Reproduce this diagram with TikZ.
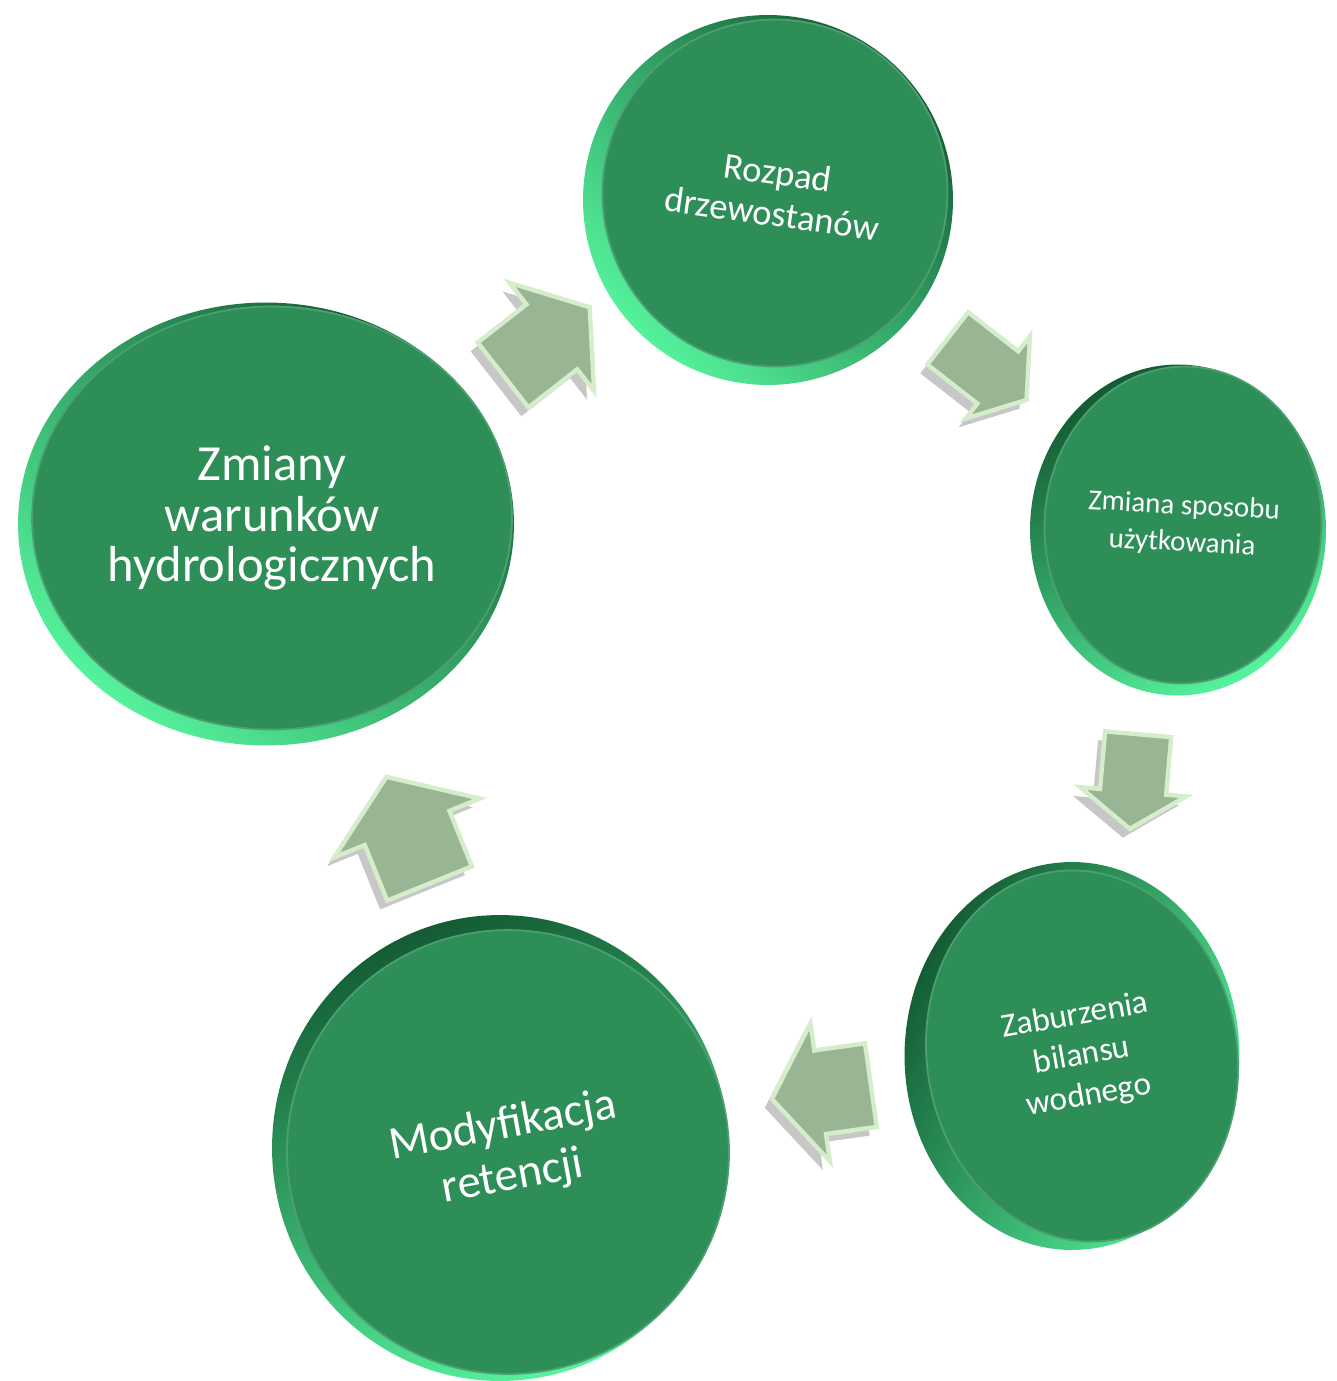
\documentclass[tikz,border=0pt]{standalone}
\usepackage{fontspec}
\setmainfont{Carlito}
\usetikzlibrary{shapes.geometric,shapes.arrows,shadows}

\definecolor{discface}{HTML}{2E8E58}
\definecolor{rimlight}{HTML}{55F29C}
\definecolor{rimdark}{HTML}{145C34}
\definecolor{arrowfill}{HTML}{9AB593}
\definecolor{arrowedge}{HTML}{D6EDCB}

\begin{document}
\begin{tikzpicture}[x=0.02cm, y=-0.02cm]
	\tikzstyle{face} = [ellipse, fill=discface, text=white, align=center, inner sep=0pt, draw=discface!85!white, line width=1pt]
	\tikzstyle{rim} = [ellipse, inner sep=0pt, top color=rimdark, bottom color=rimlight]
	\tikzstyle{blockarrow} = [single arrow, fill=arrowfill, draw=arrowedge, line width=2.5pt, inner xsep=0pt, single arrow tip angle=110, drop shadow={shadow xshift=-4pt, shadow yshift=-5pt, fill=black, opacity=.22}]
	\useasboundingbox (0,0) rectangle (1336,1381);

	\node[rim, minimum width=7.4cm, minimum height=7.4cm, shading angle=-45] (rozpadRim) at (768,200) {};
	\node[face, minimum width=6.9cm, minimum height=6.94cm, rotate=-8, font=\fontsize{20.8}{23.5}\selectfont] (rozpad) at (775,193) {Rozpad\\drzewostanów};

	\node[rim, minimum width=5.92cm, minimum height=6.62cm, shading angle=30] (zmianaRim) at (1178,530) {};
	\node[face, minimum width=5.54cm, minimum height=6.34cm, rotate=-3, font=\fontsize{16.5}{21}\selectfont] (zmiana) at (1183,525) {Zmiana sposobu\\użytkowania};

	\node[rim, minimum width=6.7cm, minimum height=7.76cm, shading angle=60] (zaburzeniaRim) at (1072,1056) {};
	\node[face, minimum width=6.2cm, minimum height=7.46cm, rotate=10, font=\fontsize{19}{23}\selectfont] (zaburzenia) at (1082,1056) {Zaburzenia\\bilansu\\wodnego};

	\node[rim, minimum width=9.12cm, minimum height=9.32cm, shading angle=20] (modyfikacjaRim) at (500,1148) {};
	\node[face, minimum width=8.84cm, minimum height=8.88cm, rotate=10.5, font=\fontsize{26.5}{29.5}\selectfont] (modyfikacja) at (508,1152) {Modyfikacja\\retencji};

	\node[rim, minimum width=9.92cm, minimum height=8.86cm, shading angle=-40] (zmianyRim) at (266,524) {};
	\node[face, minimum width=9.6cm, minimum height=8.46cm, font=\fontsize{28.8}{28.8}\selectfont] (zmiany) at (272,518) {Zmiany\\warunków\\hydrologicznych};

	\node[blockarrow, minimum height=2.2cm, inner ysep=0.78cm, single arrow head extend=0.55cm, rotate=38] (toRozpad) at (535,350) {};
	\node[blockarrow, minimum height=2.0cm, inner ysep=0.62cm, single arrow head extend=0.38cm, rotate=-38] (toZmiana) at (978,362) {};
	\node[blockarrow, minimum height=1.9cm, inner ysep=0.62cm, single arrow head extend=0.40cm, rotate=-95] (toZaburzenia) at (1135,770) {};
	\node[blockarrow, minimum height=2.0cm, inner ysep=0.80cm, single arrow head extend=0.55cm, rotate=188] (toModyfikacja) at (836,1090) {};
	\node[blockarrow, minimum height=2.3cm, inner ysep=0.87cm, single arrow head extend=0.66cm, rotate=112] (toZmiany) at (414,845) {};
\end{tikzpicture}
\end{document}
